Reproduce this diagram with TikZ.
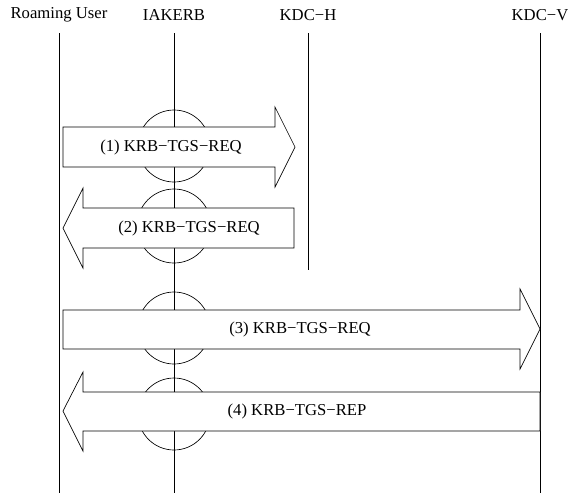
\documentclass[tikz,border=0pt]{standalone}
\usepackage{fontspec}
\setmainfont{Liberation Serif}
\usetikzlibrary{positioning}

\tikzset{
  life/.style={thin, black},
  hoop/.style={thin, black},
  msg/.style={fill=white, draw=black, thin, line join=miter},
}

\begin{document}
\begin{tikzpicture}[x=0.6pt, y=-0.6pt]
					\useasboundingbox (0,0) rectangle (568,493);
					%Nodes
					\node 		 (ru) 	at 	(59,15) 	{Roaming User};
					\node 		 (iak) 	at 	(174,15) 	{IAKERB};
					\node 		 (kdch) at 	(308,15) 	{KDC−H};
					\node 		 (kdcv) at 	(540,15) 	{KDC−V};
					\coordinate      (ruEnd) 	at 	(59,493);
					\coordinate      (iakEnd) 	at 	(174,493);
					\coordinate      (kdchEnd) 	at 	(308,270);
					\coordinate      (kdcvEnd) 	at 	(540,493);

					%Lifelines
					\draw[life] (ru) ++(0,18) -- (ruEnd);
					\draw[life] (iak) ++(0,18) -- (iakEnd);
					\draw[life] (kdch) ++(0,18) -- (kdchEnd);
					\draw[life] (kdcv) ++(0,18) -- (kdcvEnd);

					%Circles on IAKERB
					\draw[hoop] (174,146) circle (36);
					\draw[hoop] (174,226) circle (37);
					\draw[hoop] (174,328) circle (36);
					\draw[hoop] (174,414) circle (36);

					%Messages
					\draw[msg] (63,127) -- (275,127) -- (275,107) -- (295,147) -- (275,187) -- (275,167) -- (63,167) -- cycle;
					\node (m1) at (171,147) {(1) KRB−TGS−REQ};
					\draw[msg] (294,208) -- (83,208) -- (83,188) -- (63,228) -- (83,268) -- (83,248) -- (294,248) -- cycle;
					\node (m2) at (189,228) {(2) KRB−TGS−REQ};
					\draw[msg] (63,310) -- (520,310) -- (520,289) -- (540,329) -- (520,369) -- (520,349) -- (63,349) -- cycle;
					\node (m3) at (300,329) {(3) KRB−TGS−REQ};
					\draw[msg] (540,392) -- (83,392) -- (83,372) -- (63,411) -- (83,451) -- (83,431) -- (540,431) -- cycle;
					\node (m4) at (297,411) {(4) KRB−TGS−REP};

\end{tikzpicture}
\end{document}
